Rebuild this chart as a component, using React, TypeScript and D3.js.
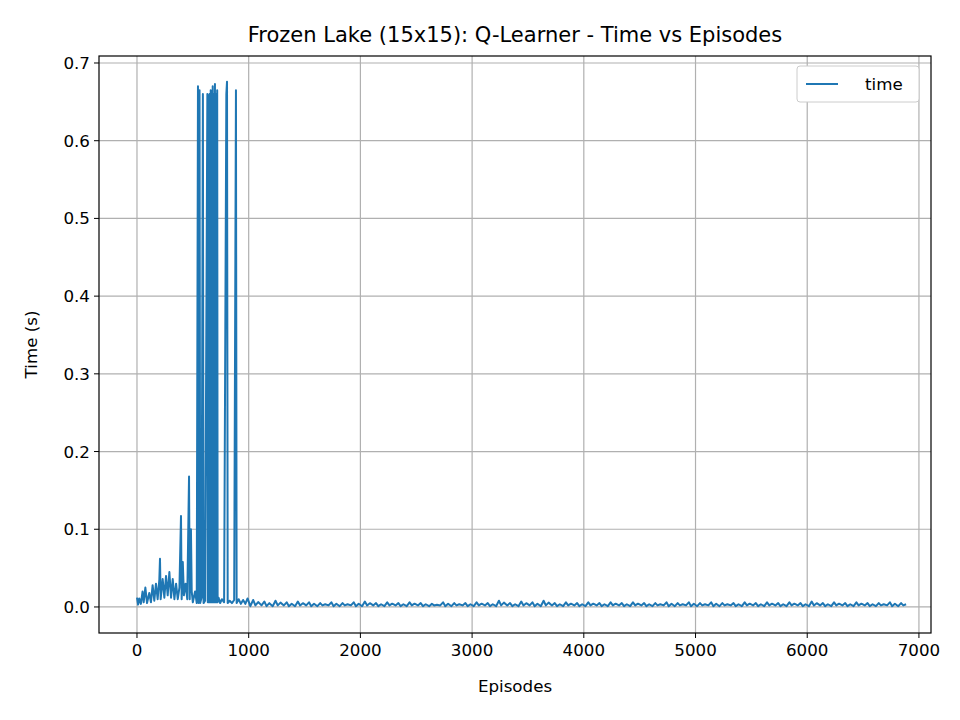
import React from 'react'
import * as d3 from 'd3'

// early episodes (0-1000): [episode, time]
const earlyPoints: [number, number][] = [
  [0, 0.012], [10, 0.003], [20, 0.011], [35, 0.004], [50, 0.02], [60, 0.006], [75, 0.025], [90, 0.005],
  [110, 0.018], [125, 0.006], [140, 0.028], [155, 0.008], [170, 0.03], [185, 0.01], [200, 0.035], [206, 0.062],
  [212, 0.01], [230, 0.036], [245, 0.012], [260, 0.04], [275, 0.015], [290, 0.045], [305, 0.012], [320, 0.036],
  [335, 0.01], [350, 0.03], [365, 0.01], [380, 0.025], [394, 0.117], [400, 0.01], [410, 0.058], [420, 0.015],
  [435, 0.03], [450, 0.01], [466, 0.168], [472, 0.01], [483, 0.1], [490, 0.02], [500, 0.006], [520, 0.02],
  [535, 0.005], [546, 0.67], [552, 0.005], [560, 0.665], [566, 0.005], [578, 0.012], [590, 0.66], [596, 0.005],
  [610, 0.008], [630, 0.66], [634, 0.006], [640, 0.658], [644, 0.006], [650, 0.66], [654, 0.006], [660, 0.665],
  [664, 0.006], [668, 0.66], [672, 0.006], [678, 0.67], [682, 0.006], [688, 0.66], [692, 0.006], [698, 0.673],
  [702, 0.006], [708, 0.66], [712, 0.006], [718, 0.665], [722, 0.006], [730, 0.012], [745, 0.005], [760, 0.01],
  [780, 0.006], [800, 0.66], [806, 0.676], [812, 0.005], [830, 0.008], [850, 0.005], [870, 0.009], [886, 0.665],
  [892, 0.005], [910, 0.01], [930, 0.004], [950, 0.009], [970, 0.004], [990, 0.011]
]
// later episodes (1000-6850): peak of the small noise in each 100-episode bucket
const laterStart = 1000
const laterStep = 100
const laterPeaks = [
  0.009, 0.007, 0.008, 0.006, 0.007, 0.006, 0.005, 0.006, 0.005, 0.006, 0.007, 0.005, 0.006, 0.005, 0.006,
  0.005, 0.004, 0.006, 0.005, 0.005, 0.006, 0.005, 0.008, 0.005, 0.007, 0.006, 0.008, 0.005, 0.006, 0.005,
  0.006, 0.005, 0.006, 0.005, 0.006, 0.005, 0.005, 0.006, 0.005, 0.006, 0.005, 0.006, 0.005, 0.005, 0.006,
  0.005, 0.006, 0.005, 0.006, 0.005, 0.007, 0.005, 0.006, 0.005, 0.006, 0.005, 0.005, 0.006, 0.005
]
const laterLows = [0.001, 0.002]

const xTicks = [0, 1000, 2000, 3000, 4000, 5000, 6000, 7000]
const yTicks = [0, 0.1, 0.2, 0.3, 0.4, 0.5, 0.6, 0.7]

const W = 960, H = 720
const m = { left: 99, right: 931, top: 56, bottom: 633 }
const font = 'DejaVu Sans, sans-serif'
const fs = 16.7

export default function App() {
  const data: [number, number][] = [...earlyPoints]
  laterPeaks.forEach((p, i) => {
    const e = laterStart + i * laterStep
    data.push([e + 15, laterLows[i % 2]], [e + 40, p], [e + 60, laterLows[(i + 1) % 2]], [e + 85, p * 0.7])
  })
  const x = d3.scaleLinear().domain([-340, 7108]).range([m.left, m.right])
  const y = d3.scaleLinear().domain([-0.0335, 0.709]).range([m.bottom, m.top])
  const line = d3.line<[number, number]>().x(d => x(d[0])).y(d => y(d[1]))
  return (
    <svg width={W} height={H} style={{ position: 'absolute', left: 0, top: 0 }} fontFamily={font}>
      <rect width={W} height={H} fill="#fff" />
      {xTicks.map(t => (
        <g key={t}>
          <line x1={x(t)} x2={x(t)} y1={m.top} y2={m.bottom} stroke="#b0b0b0" strokeWidth={1.2} />
          <line x1={x(t)} x2={x(t)} y1={m.bottom} y2={m.bottom + 5} stroke="#000" />
          <text x={x(t)} y={m.bottom + 23} textAnchor="middle" fontSize={fs}>{t}</text>
        </g>
      ))}
      {yTicks.map(t => (
        <g key={t}>
          <line x1={m.left} x2={m.right} y1={y(t)} y2={y(t)} stroke="#b0b0b0" strokeWidth={1.2} />
          <line x1={m.left - 5} x2={m.left} y1={y(t)} y2={y(t)} stroke="#000" />
          <text x={m.left - 9} y={y(t) + 6} textAnchor="end" fontSize={fs}>{t.toFixed(1)}</text>
        </g>
      ))}
      <path d={line(data) ?? ''} fill="none" stroke="#1f77b4" strokeWidth={2} strokeLinejoin="round" />
      <rect x={m.left} y={m.top} width={m.right - m.left} height={m.bottom - m.top} fill="none" stroke="#000" strokeWidth={1.2} />
      <text x={(m.left + m.right) / 2} y={42} textAnchor="middle" fontSize={21}>Frozen Lake (15x15): Q-Learner - Time vs Episodes</text>
      <text x={(m.left + m.right) / 2} y={692} textAnchor="middle" fontSize={fs}>Episodes</text>
      <text transform={`translate(37,${(m.top + m.bottom) / 2}) rotate(-90)`} textAnchor="middle" fontSize={fs}>Time (s)</text>
      <g>
        <rect x={797} y={66} width={122} height={36} rx={3} fill="#fff" stroke="#ccc" />
        <line x1={806} x2={838} y1={84} y2={84} stroke="#1f77b4" strokeWidth={2} />
        <text x={865} y={90} fontSize={fs}>time</text>
      </g>
    </svg>
  )
}
